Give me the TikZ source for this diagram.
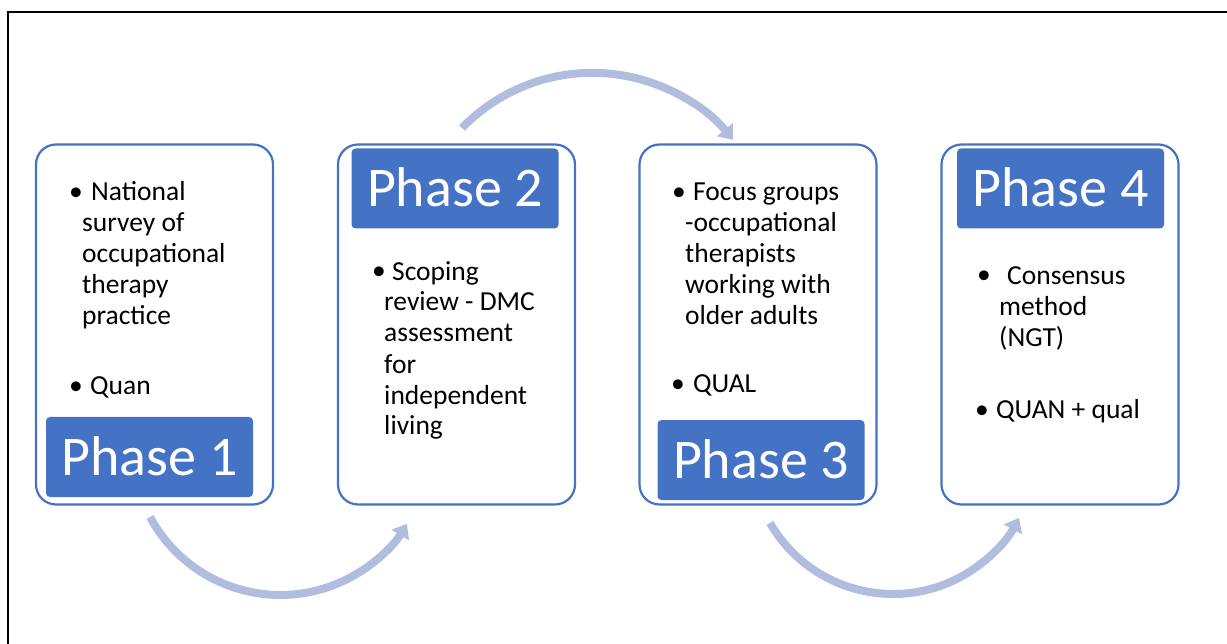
\documentclass[tikz,border=0pt]{standalone}
\usepackage{fontspec}
\setmainfont{Carlito}
\usetikzlibrary{arrows.meta}
\definecolor{accent}{HTML}{4472C4}
\definecolor{arrowc}{RGB}{176,189,223}
\begin{document}
\begin{tikzpicture}[x=1pt,y=-1pt,
  card/.style={draw=accent, line width=2.2pt, rounded corners=20pt, minimum width=237pt, minimum height=360pt, inner sep=0pt, fill=white},
  phasebox/.style={fill=accent, rounded corners=4pt, minimum width=207pt, minimum height=80pt, inner sep=0pt, text=white, font=\fontsize{56}{60}\selectfont, text height=36pt, text depth=0pt},
  btext/.style={font=\fontsize{27.5}{31}\selectfont, anchor=base west, inner sep=0pt, align=left},
  bdot/.style={font=\fontsize{27.5}{31}\selectfont, anchor=base, inner sep=0pt},
  flow/.style={draw=arrowc, line width=8pt, -{Triangle[width=20pt,length=13pt]}}
]
\useasboundingbox (0,0) rectangle (1227,644);
\clip (0,0) rectangle (1227,644);
\draw[line width=2pt] (8,700) -- (8,12) -- (1260,12);

% cards
\node[card] (c1) at (154.5,324.5) {};
\node[card] (c2) at (456.5,324.5) {};
\node[card] (c3) at (758,324.5) {};
\node[card] (c4) at (1060,324.5) {};

% phase labels
\node[phasebox] (p1) at (149.5,457) {Phase 1};
\node[phasebox] (p2) at (455,188.5) {Phase 2};
\node[phasebox] (p3) at (761,460) {Phase 3};
\node[phasebox] (p4) at (1060.5,188.5) {Phase 4};

% card 1 text (base anchor = last line's baseline)
\node[bdot] (b1a) at (76,201) {\textbullet};
\node[btext] (t1a) at (82,325) {\hspace*{9pt}National\\survey of\\occupational\\therapy\\practice};
\node[bdot] (b1b) at (76,395) {\textbullet};
\node[btext] (t1b) at (90,395) {Quan};

% card 2 text
\node[bdot] (b2a) at (379,280) {\textbullet};
\node[btext] (t2a) at (384,435) {\hspace*{8pt}Scoping\\review - DMC\\assessment\\for\\independent\\living};

% card 3 text
\node[bdot] (b3a) at (679,201) {\textbullet};
\node[btext] (t3a) at (685,325) {\hspace*{8pt}Focus groups\\-occupational\\therapists\\working with\\older adults};
\node[bdot] (b3b) at (678,393) {\textbullet};
\node[btext] (t3b) at (693,393) {QUAL};

% card 4 text
\node[bdot] (b4a) at (984,284) {\textbullet};
\node[btext] (t4a) at (999,347) {\hspace*{8pt}Consensus\\method\\(NGT)};
\node[bdot] (b4b) at (982,418) {\textbullet};
\node[btext] (t4b) at (996,418) {QUAN + qual};

% arrows
\coordinate (a1s) at (150,517);
\draw[flow] (a1s) arc[start angle=-208.3, end angle=-328.6, radius=148.2];
\coordinate (a2s) at (462,128);
\draw[flow] (a2s) arc[start angle=-135.9, end angle=-39.1, radius=181.4];
\coordinate (a3s) at (770,523);
\draw[flow] (a3s) arc[start angle=-210.05, end angle=-332.3, radius=142.2];
\end{tikzpicture}
\end{document}
